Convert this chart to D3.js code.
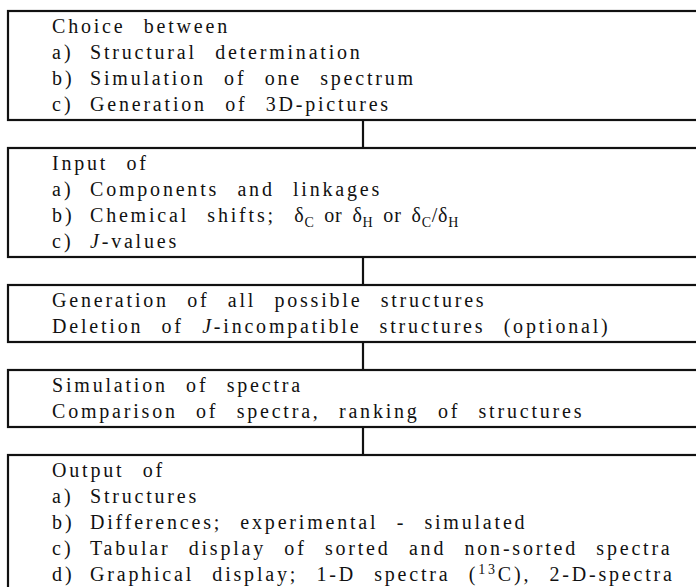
<!DOCTYPE html>
<html>
<head>
<meta charset="utf-8">
<script src="https://cdn.jsdelivr.net/npm/d3@7"></script>
<style>
  html, body { margin: 0; padding: 0; background: #fff; }
  svg text { font-family: "Liberation Serif", "Times New Roman", serif; fill: #111; }
</style>
</head>
<body>
<svg id="chart"></svg>
<script>
// each box = list of lines, [label, text]
// markup: *x* italic, _{x} subscript, ^{x} superscript, [..] tight (math) spacing
const choiceLines = [
    ["", "Choice between"],
    ["a)", "Structural determination"],
    ["b)", "Simulation of one spectrum"],
    ["c)", "Generation of 3D-pictures"]
];
const inputLines = [
    ["", "Input of"],
    ["a)", "Components and linkages"],
    ["b)", "Chemical shifts; [δ_{C} or δ_{H} or δ_{C}/δ_{H}]"],
    ["c)", "*J*-values"]
];
const generationLines = [
    ["", "Generation of all possible structures"],
    ["", "Deletion of *J*-incompatible structures (optional)"]
];
const simulationLines = [
    ["", "Simulation of spectra"],
    ["", "Comparison of spectra, ranking of structures"]
];
const outputLines = [
    ["", "Output of"],
    ["a)", "Structures"],
    ["b)", "Differences; experimental - simulated"],
    ["c)", "Tabular display of sorted and non-sorted spectra"],
    ["d)", "Graphical display; 1-D spectra (^{13}C), 2-D-spectra"]
];
const steps = [choiceLines, inputLines, generationLines, simulationLines, outputLines];

const width = 696, height = 587;
const boxLeft = 8, boxRight = width + 6, firstTop = 11;
const padTop = 22, pitch = 26, padBottom = 9, gap = 28;
const labelX = 52, textX = 90, linkX = 363;
const fontSize = 20, letterSp = 2.8, wordSp = 10.5;

const svg = d3.select("#chart")
    .attr("width", width)
    .attr("height", height);

// work out box positions from the number of lines
let y = firstTop;
const boxes = steps.map((lines, i) => {
    const top = y;
    const bottom = top + padTop + pitch * (lines.length - 1) + padBottom;
    y = bottom + gap;
    return { i, lines, top, bottom };
});

// connectors between boxes
svg.selectAll(".link")
    .data(boxes.slice(1))
    .enter()
    .append("line")
    .attr("x1", linkX).attr("x2", linkX)
    .attr("y1", d => boxes[d.i - 1].bottom)
    .attr("y2", d => d.top)
    .attr("stroke", "#111")
    .attr("stroke-width", 2.2);

const g = svg.selectAll(".box")
    .data(boxes)
    .enter()
    .append("g")
    .attr("class", "box");

g.append("rect")
    .attr("x", boxLeft)
    .attr("y", d => d.top)
    .attr("width", boxRight - boxLeft)
    .attr("height", d => d.bottom - d.top)
    .attr("fill", "none")
    .attr("stroke", "#111")
    .attr("stroke-width", 2.2);

// split the little markup into tspans, shifting sub/superscripts
function addRich(text, str) {
    let back = 0;
    str.split(/(\[[^\]]+\])/).filter(s => s.length).forEach(chunk => {
        const tight = chunk[0] === "[";
        const body = tight ? chunk.slice(1, -1) : chunk;
        body.split(/(\*[^*]+\*|_\{[^}]+\}|\^\{[^}]+\})/).filter(s => s.length).forEach(p => {
            let span;
            if (p[0] === "*") {
                span = text.append("tspan").attr("dy", back).style("font-style", "italic").text(p.slice(1, -1));
                back = 0;
            } else if (p[0] === "_") {
                span = text.append("tspan").attr("dy", back + 5).style("font-size", "14px").text(p.slice(2, -1));
                back = -5;
            } else if (p[0] === "^") {
                span = text.append("tspan").attr("dy", back - 7).style("font-size", "14px").text(p.slice(2, -1));
                back = 7;
            } else {
                span = text.append("tspan").attr("dy", back).text(p);
                back = 0;
            }
            if (tight) span.style("letter-spacing", "0.8px").style("word-spacing", "4px");
        });
    });
}

g.each(function (d) {
    const box = d3.select(this);
    d.lines.forEach((line, k) => {
        const base = d.top + padTop + pitch * k;
        if (line[0]) {
            box.append("text")
                .attr("x", labelX).attr("y", base)
                .style("font-size", fontSize + "px")
                .style("letter-spacing", "3px")
                .text(line[0]);
        }
        const t = box.append("text")
            .attr("x", line[0] ? textX : labelX)
            .attr("y", base)
            .style("font-size", fontSize + "px")
            .style("letter-spacing", letterSp + "px")
            .style("word-spacing", wordSp + "px");
        addRich(t, line[1]);
    });
});
</script>
</body>
</html>
